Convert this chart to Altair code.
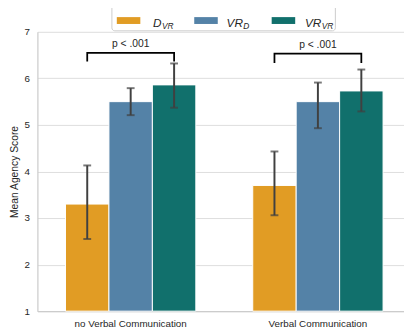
import altair as alt
import pandas as pd

groups = ["no Verbal Communication", "Verbal Communication"]
series = ["D_VR", "VR_D", "VR_VR"]
colors = ["#e19c24", "#5482a7", "#11706c"]

means = {"D_VR": [3.30, 3.70], "VR_D": [5.50, 5.50], "VR_VR": [5.86, 5.73]}
err_lo = {"D_VR": [2.55, 3.06], "VR_D": [5.21, 4.93], "VR_VR": [5.37, 5.29]}
err_hi = {"D_VR": [4.13, 4.43], "VR_D": [5.79, 5.91], "VR_VR": [6.32, 6.19]}

bracket_top = [6.55, 6.53]
bracket_bottom = [6.36, 6.33]
p_label = ["p < .001", "p < .001"]
p_label_y = [6.73, 6.72]

legend_main = ["D", "VR", "VR"]
legend_sub = ["VR", "D", "VR"]

FONT = "Liberation Sans"

rows = []
for s in series:
    for gi, g in enumerate(groups):
        rows.append({"group": g, "series": s, "mean": means[s][gi],
                     "lo": err_lo[s][gi], "hi": err_hi[s][gi]})
df = pd.DataFrame(rows)

brows = []
for gi, g in enumerate(groups):
    pts = [("D_VR", bracket_bottom[gi]), ("D_VR", bracket_top[gi]),
           ("VR_VR", bracket_top[gi]), ("VR_VR", bracket_bottom[gi])]
    for k, (s, v) in enumerate(pts):
        brows.append({"group": g, "series": s, "y": v, "k": k})
bdf = pd.DataFrame(brows)

pdf = pd.DataFrame({"group": groups, "label": p_label, "y": p_label_y})

xscale = alt.Scale(paddingInner=0.304, paddingOuter=0.131, align=0.573)
xenc = alt.X("group:N", sort=groups, scale=xscale,
             axis=alt.Axis(title=None, labelAngle=0, ticks=False, domain=True,
                           domainColor="#cccccc", domainWidth=1.25,
                           labelFontSize=10, labelColor="#262626", labelFont=FONT,
                           labelPadding=8))
xoff = alt.XOffset("series:N", sort=series,
                   scale=alt.Scale(paddingInner=0, paddingOuter=0))
yscale = alt.Scale(domain=[1, 7], nice=False, zero=False)
yenc = alt.Y("mean:Q", scale=yscale,
             axis=alt.Axis(values=[1, 2, 3, 4, 5, 6, 7], grid=True,
                           gridColor="#dddddd", gridWidth=1,
                           domain=True, domainColor="#cccccc", domainWidth=1.25,
                           ticks=False, labelFontSize=10, labelColor="#262626",
                           labelFont=FONT, labelPadding=8,
                           title="Mean Agency Score", titleFontSize=10.5,
                           titleFontWeight="normal", titleColor="#262626",
                           titleFont=FONT, titlePadding=5))

bars = alt.Chart(df).mark_bar(stroke="white", strokeWidth=1).encode(
    x=xenc, xOffset=xoff, y=yenc, y2=alt.datum(1),
    color=alt.Color("series:N", sort=series,
                    scale=alt.Scale(domain=series, range=colors), legend=None),
)

errc = "#404040"
err = alt.Chart(df).mark_rule(color=errc, strokeWidth=2).encode(
    x=alt.X("group:N", sort=groups), xOffset=alt.XOffset("series:N", sort=series),
    y=alt.Y("lo:Q", scale=yscale), y2="hi:Q")
cap_lo = alt.Chart(df).mark_tick(color=errc, thickness=2, size=8).encode(
    x=alt.X("group:N", sort=groups), xOffset=alt.XOffset("series:N", sort=series),
    y=alt.Y("lo:Q", scale=yscale))
cap_hi = alt.Chart(df).mark_tick(color=errc, thickness=2, size=8).encode(
    x=alt.X("group:N", sort=groups), xOffset=alt.XOffset("series:N", sort=series),
    y=alt.Y("hi:Q", scale=yscale))

brackets = alt.Chart(bdf).mark_line(color="black", strokeWidth=1.8).encode(
    x=alt.X("group:N", sort=groups), xOffset=alt.XOffset("series:N", sort=series),
    y=alt.Y("y:Q", scale=yscale), order="k:Q", detail="group:N")

ptext = alt.Chart(pdf).mark_text(fontSize=10.5, color="#262626", font=FONT,
                                 baseline="middle").encode(
    x=alt.X("group:N", sort=groups), y=alt.Y("y:Q", scale=yscale), text="label:N")

one = pd.DataFrame({"a": [0]})
legend_layers = [
    alt.Chart(one).mark_rect(fill="white", stroke="#cccccc", strokeWidth=1,
                             cornerRadius=3).encode(
        x=alt.value(76), x2=alt.value(304), y=alt.value(-35), y2=alt.value(-1))
]
sw_x = [81, 160, 239]
main_x = [118, 193, 273]
sub_x = [127, 210, 290]
for i in range(3):
    legend_layers.append(alt.Chart(one).mark_rect(color=colors[i]).encode(
        x=alt.value(sw_x[i]), x2=alt.value(sw_x[i] + 24),
        y=alt.value(-15), y2=alt.value(-8)))
    legend_layers.append(alt.Chart(one).mark_text(
        fontSize=12, fontStyle="italic", font=FONT, color="#262626",
        align="left", baseline="alphabetic").encode(
        x=alt.value(main_x[i]), y=alt.value(-5), text=alt.value(legend_main[i])))
    legend_layers.append(alt.Chart(one).mark_text(
        fontSize=8.5, fontStyle="italic", font=FONT, color="#262626",
        align="left", baseline="alphabetic").encode(
        x=alt.value(sub_x[i]), y=alt.value(-2.5), text=alt.value(legend_sub[i])))

chart = alt.layer(bars, err, cap_lo, cap_hi, brackets, ptext, *legend_layers).properties(
    width=374, height=285,
    autosize=alt.AutoSizeParams(type="none"),
    padding={"left": 30, "top": 21, "right": 0, "bottom": 20},
).configure_view(stroke=None)

chart.save("out.html", embed_options={"renderer": "svg", "actions": False})
